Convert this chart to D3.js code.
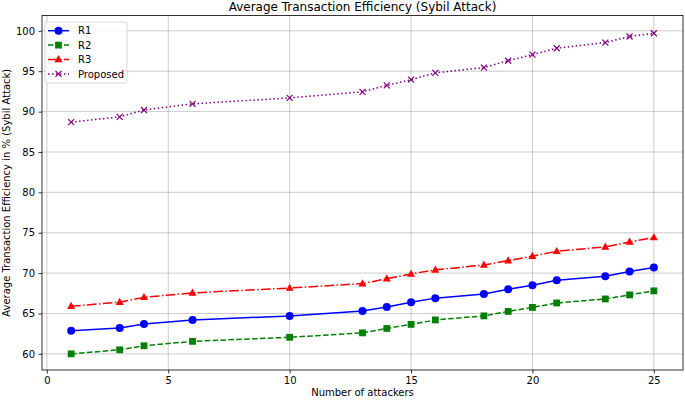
<!DOCTYPE html>
<html>
<head>
<meta charset="utf-8">
<script src="https://cdn.jsdelivr.net/npm/d3@7"></script>
<style>
  body { margin: 0; background: #fff; }
  svg { font-family: "DejaVu Sans", sans-serif; }
</style>
</head>
<body>
<div id="chart"></div>
<script>
// attackers on the x axis
const attackers = [1, 3, 4, 6, 10, 13, 14, 15, 16, 18, 19, 20, 21, 23, 24, 25];

// efficiency values
const r1 = [62.85, 63.2, 63.7, 64.2, 64.7, 65.3, 65.8, 66.4, 66.9, 67.4, 68.0, 68.5, 69.1, 69.6, 70.2, 70.7];
const r2 = [60.0, 60.5, 61.0, 61.55, 62.05, 62.6, 63.15, 63.65, 64.2, 64.7, 65.25, 65.75, 66.3, 66.8, 67.3, 67.8];
const r3 = [65.9, 66.4, 67.0, 67.55, 68.15, 68.7, 69.3, 69.9, 70.4, 71.0, 71.55, 72.1, 72.7, 73.25, 73.85, 74.4];
const proposed = [88.7, 89.35, 90.2, 90.95, 91.7, 92.45, 93.25, 93.95, 94.8, 95.45, 96.3, 97.05, 97.85, 98.55, 99.3, 99.7];

const xTicks = [0, 5, 10, 15, 20, 25];
const yTicks = [60, 65, 70, 75, 80, 85, 90, 95, 100];

const series = [
  { name: "R1", values: r1, color: "blue", dash: null, marker: "circle" },
  { name: "R2", values: r2, color: "green", dash: "5.5,2.4", marker: "square" },
  { name: "R3", values: r3, color: "red", dash: "9.6,2.4,1.5,2.4", marker: "triangle" },
  { name: "Proposed", values: proposed, color: "purple", dash: "1.5,2.5", marker: "x" }
];

const W = 685, H = 400;
const margin = { top: 15.5, right: 2, bottom: 30, left: 42 };

const svg = d3.select("#chart").append("svg")
  .attr("width", W)
  .attr("height", H);

const x = d3.scaleLinear()
  .domain([-0.2, 26.2])
  .range([margin.left, W - margin.right]);

const y = d3.scaleLinear()
  .domain([58.0, 101.9])
  .range([H - margin.bottom, margin.top]);

// grid
svg.append("g")
  .selectAll("line.gx")
  .data(xTicks)
  .enter().append("line")
  .attr("x1", d => x(d)).attr("x2", d => x(d))
  .attr("y1", margin.top).attr("y2", H - margin.bottom)
  .attr("stroke", "#b0b0b0").attr("stroke-width", 0.8).attr("opacity", 0.8);

svg.append("g")
  .selectAll("line.gy")
  .data(yTicks)
  .enter().append("line")
  .attr("x1", margin.left).attr("x2", W - margin.right)
  .attr("y1", d => y(d)).attr("y2", d => y(d))
  .attr("stroke", "#b0b0b0").attr("stroke-width", 0.8).attr("opacity", 0.8);

// axes
const xAxis = svg.append("g")
  .attr("transform", `translate(0,${H - margin.bottom})`)
  .call(d3.axisBottom(x).tickValues(xTicks).tickSize(3.5).tickPadding(3.5));

const yAxis = svg.append("g")
  .attr("transform", `translate(${margin.left},0)`)
  .call(d3.axisLeft(y).tickValues(yTicks).tickSize(3.5).tickPadding(3.5));

[xAxis, yAxis].forEach(a => {
  a.select(".domain").remove();
  a.selectAll("text").attr("font-size", 10).attr("fill", "#000")
    .attr("font-family", "DejaVu Sans, sans-serif");
  a.selectAll("line").attr("stroke", "#000").attr("stroke-width", 0.8);
});

// frame
svg.append("rect")
  .attr("x", margin.left).attr("y", margin.top)
  .attr("width", W - margin.right - margin.left)
  .attr("height", H - margin.bottom - margin.top)
  .attr("fill", "none").attr("stroke", "#000").attr("stroke-width", 0.8);

// labels
svg.append("text")
  .attr("x", (margin.left + W - margin.right) / 2)
  .attr("y", 11)
  .attr("text-anchor", "middle")
  .attr("font-size", 12)
  .text("Average Transaction Efficiency (Sybil Attack)");

svg.append("text")
  .attr("x", (margin.left + W - margin.right) / 2)
  .attr("y", 396)
  .attr("text-anchor", "middle")
  .attr("font-size", 10)
  .text("Number of attackers");

svg.append("text")
  .attr("transform", `translate(10,${(margin.top + H - margin.bottom) / 2}) rotate(-90)`)
  .attr("text-anchor", "middle")
  .attr("font-size", 10)
  .text("Average Transaction Efficiency in % (Sybil Attack)");

// marker drawing
function drawMarker(g, type, color, cx, cy) {
  if (type === "circle") {
    g.append("circle").attr("cx", cx).attr("cy", cy).attr("r", 4)
      .attr("fill", color);
  } else if (type === "square") {
    g.append("rect").attr("x", cx - 3.4).attr("y", cy - 3.4)
      .attr("width", 6.8).attr("height", 6.8).attr("fill", color);
  } else if (type === "triangle") {
    g.append("path")
      .attr("d", `M${cx},${cy - 4.4}L${cx + 4},${cy + 2.8}L${cx - 4},${cy + 2.8}Z`)
      .attr("fill", color);
  } else if (type === "x") {
    g.append("path")
      .attr("d", `M${cx - 3},${cy - 3}L${cx + 3},${cy + 3}M${cx - 3},${cy + 3}L${cx + 3},${cy - 3}`)
      .attr("stroke", color).attr("stroke-width", 1.2).attr("fill", "none");
  }
}

const line = d3.line()
  .x((d, i) => x(attackers[i]))
  .y(d => y(d));

series.forEach(s => {
  const g = svg.append("g");
  g.append("path")
    .datum(s.values)
    .attr("d", line)
    .attr("fill", "none")
    .attr("stroke", s.color)
    .attr("stroke-width", 1.5)
    .attr("stroke-dasharray", s.dash);
  s.values.forEach((v, i) => drawMarker(g, s.marker, s.color, x(attackers[i]), y(v)));
});

// legend
const legend = svg.append("g").attr("transform", "translate(45,22)");
legend.append("rect")
  .attr("width", 82).attr("height", 61).attr("rx", 2)
  .attr("fill", "#fff").attr("fill-opacity", 0.8)
  .attr("stroke", "#d0d0d0").attr("stroke-width", 0.8);

series.forEach((s, i) => {
  const ly = 8.7 + i * 14.4;
  legend.append("line")
    .attr("x1", 3).attr("x2", 24).attr("y1", ly).attr("y2", ly)
    .attr("stroke", s.color).attr("stroke-width", 1.5)
    .attr("stroke-dasharray", s.dash);
  drawMarker(legend, s.marker, s.color, 13.5, ly);
  legend.append("text")
    .attr("x", 33).attr("y", ly + 3.6)
    .attr("font-size", 10)
    .text(s.name);
});
</script>
</body>
</html>
